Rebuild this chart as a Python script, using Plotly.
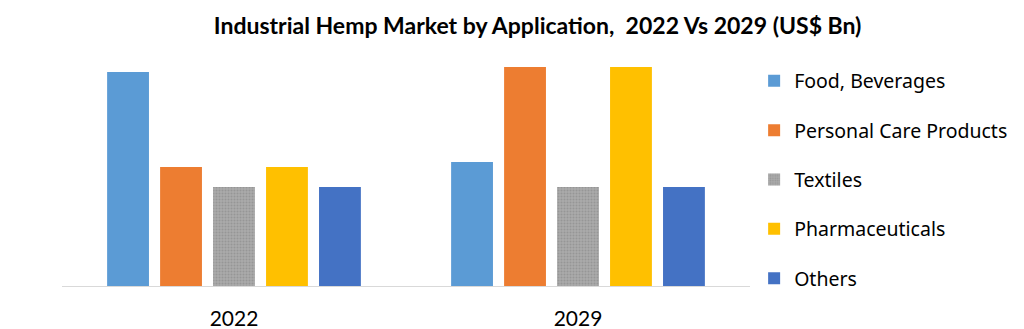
import plotly.graph_objects as go

# Market size by application (US$ Bn)
years = ["2022", "2029"]
applications = ["Food, Beverages", "Personal Care Products", "Textiles", "Pharmaceuticals", "Others"]
food_beverages = [2.14, 1.24]
personal_care = [1.19, 2.19]
textiles = [0.99, 0.99]
pharmaceuticals = [1.19, 2.19]
others = [0.99, 0.99]

series = [food_beverages, personal_care, textiles, pharmaceuticals, others]
colors = ["#5B9BD5", "#ED7D31", "#A5A5A5", "#FFC000", "#4472C4"]

fig = go.Figure()
for name, vals, col in zip(applications, series, colors):
    marker = dict(color=col, line=dict(width=0))
    if name == "Textiles":
        marker["pattern"] = dict(shape=".", size=3, solidity=0.35,
                                 fgcolor="#969696", bgcolor="#ABABAB", fillmode="replace")
    fig.add_trace(go.Bar(x=years, y=vals, name=name, marker=marker,
                         legendgroup=name))

fig.update_layout(
    width=1024, height=329,
    margin=dict(l=62, r=274, t=66, b=43, autoexpand=False),
    paper_bgcolor="white", plot_bgcolor="white",
    barmode="group", bargap=0.23, bargroupgap=0.21,
    title=dict(text="<b>Industrial Hemp Market by Application,  2022 Vs 2029 (US$ Bn)</b>",
               x=0.525, xanchor="center", y=0.92, yanchor="middle",
               font=dict(family="Lato", size=23, color="#000000")),
    legend=dict(x=1.006, xanchor="left", y=1.02, yanchor="top",
                xref="paper", yref="paper", maxheight=300,
                font=dict(family="Noto Sans", size=19.5, color="#000000"),
                tracegroupgap=21, itemwidth=30, traceorder="grouped"),
    showlegend=True,
)
fig.update_xaxes(showline=True, linecolor="#D9D9D9", linewidth=1, showgrid=False,
                 ticks="", ticklabelstandoff=14, automargin=False,
                 tickfont=dict(family="Lato", size=21, color="#000000"))
fig.update_yaxes(range=[0, 2.2], showticklabels=False, showgrid=False,
                 zeroline=False, showline=False, automargin=False)

fig.write_html("out.html")
